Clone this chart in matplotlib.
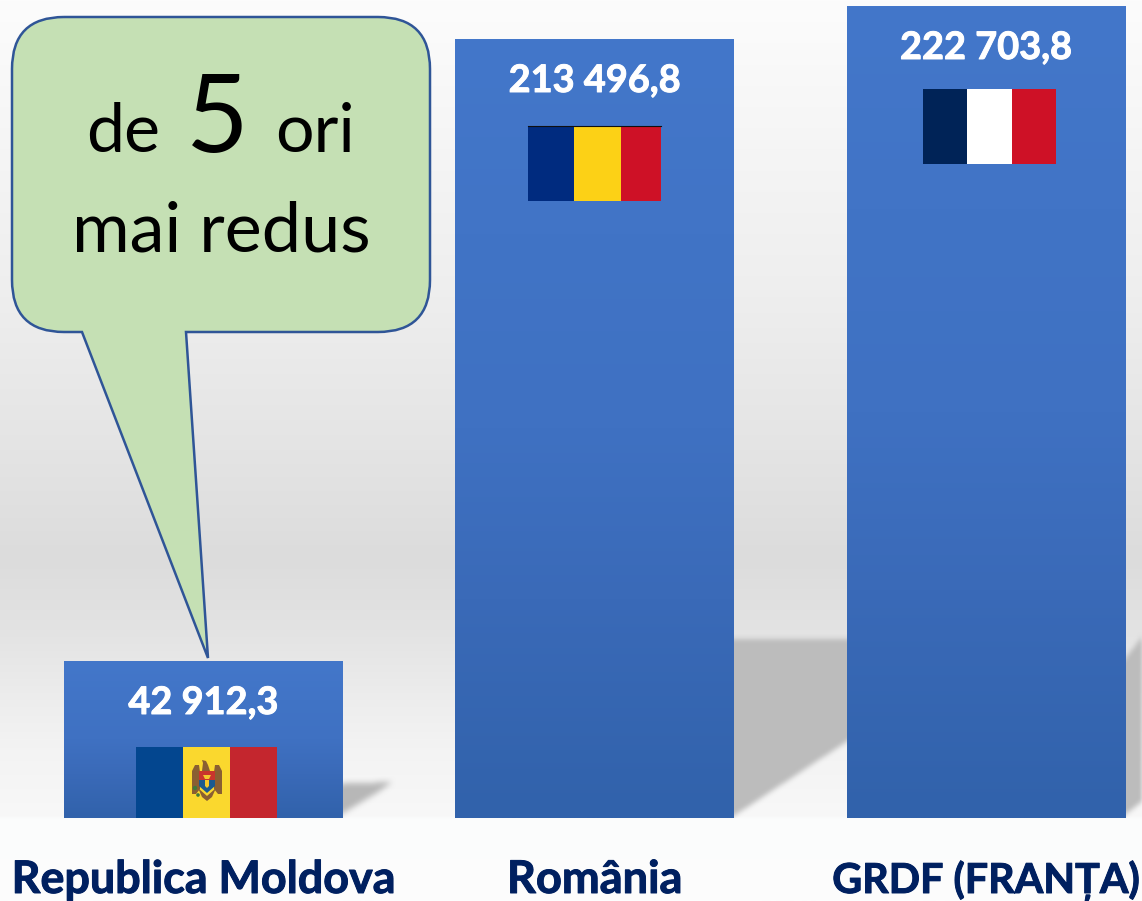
import numpy as np
import matplotlib
matplotlib.use("Agg")
import matplotlib.pyplot as plt
import matplotlib.patheffects as pe
from matplotlib.colors import to_rgb
from matplotlib.patches import Circle, PathPatch, Polygon, Rectangle
from matplotlib.path import Path
from matplotlib.transforms import Affine2D

# chart data
categories = ["Republica Moldova", "România", "GRDF (FRANȚA)"]
values = [42912.3, 213496.8, 222703.8]
value_labels = ["42 912,3", "213 496,8", "222 703,8"]
flag_colors = [["#03468f", "#fad82e", "#c4262e"],
               ["#002b7f", "#fcd116", "#ce1126"],
               ["#002357", "#ffffff", "#ce1126"]]

W, H = 1142, 901
fonts = ["Lato", "Open Sans", "DejaVu Sans"]
UNITS_PER_PX = 274.4
XSTEP = 391.25

fig = plt.figure(figsize=(W / 100, H / 100), dpi=100)
ax = fig.add_axes([0, 0, 1, 1])
ax.axis("off")

# decoration is placed in pixels, y going down
px = Affine2D().scale(1, -1).translate(0, H)


def set_limits():
    # imshow resets the limits, so this gets called again after each one
    ax.set_xlim(-203.5 / XSTEP, (W - 203.5) / XSTEP)
    ax.set_ylim(-83 * UNITS_PER_PX, 818 * UNITS_PER_PX)


def gradient(stops):
    ys = np.linspace(0, 1, 512)
    pos = [s[0] for s in stops]
    cols = [to_rgb(s[1]) for s in stops]
    rows = [np.interp(ys, pos, [c[i] for c in cols]) for i in range(3)]
    return np.array(rows).T[:, None, :]


# background, with the step under the bars
bg = gradient([(0, "#fcfcfc"), (0.33, "#eeeeee"), (0.5, "#e4e4e4"), (0.62, "#dcdcdc"), (0.70, "#e3e3e3"),
               (0.777, "#ededed"), (0.83, "#f3f3f3"), (0.907, "#f8f8f8"), (0.909, "#fbfcfc"), (1, "#fdfdfd")])
ax.imshow(bg, extent=(-203.5 / XSTEP, (W - 203.5) / XSTEP, -83 * UNITS_PER_PX, 818 * UNITS_PER_PX),
          aspect="auto", zorder=0)


def shadow(pts, grey, blur):
    # blurred polygon on a pixel grid, cut off at the floor line
    xx, yy = np.meshgrid(np.arange(W) + 0.5, np.arange(H) + 0.5)
    mask = Path(pts).contains_points(np.c_[xx.ravel(), yy.ravel()]).reshape(H, W).astype(float)
    kernel = np.ones(blur) / blur
    for _ in range(2):
        mask = np.apply_along_axis(lambda r: np.convolve(r, kernel, mode="same"), 0, mask)
        mask = np.apply_along_axis(lambda r: np.convolve(r, kernel, mode="same"), 1, mask)
    mask[818:, :] = 0
    rgba = np.zeros((H, W, 4))
    rgba[..., :3] = grey
    rgba[..., 3] = mask
    ax.imshow(rgba, extent=(-203.5 / XSTEP, (W - 203.5) / XSTEP, -83 * UNITS_PER_PX, 818 * UNITS_PER_PX),
              aspect="auto", zorder=1)


shadow([(330, 784), (392, 782), (378, 792), (335, 818)], 0.72, 7)
shadow([(725, 638), (880, 638), (880, 718), (725, 820)], 0.74, 6)
shadow([(1100, 688), (1160, 612), (1160, 786), (1100, 832)], 0.74, 6)

# bars
x = np.arange(len(categories))
width = 279 / XSTEP
bar_grad = gradient([(0, "#4377ca"), (0.5, "#3f71c2"), (0.72, "#3a6ab8"), (1, "#3162ab")])
bars = ax.bar(x, values, width=width, color="#3f72c4", zorder=2)
for b in bars:
    ax.imshow(bar_grad, extent=(b.get_x(), b.get_x() + b.get_width(), 0, b.get_height()),
              aspect="auto", zorder=3)
set_limits()

# value labels and category names
label_rows = [714, 92, 59]
name_sizes = [32.3, 32.5, 29.7]
heavy = [pe.withStroke(linewidth=0.7, foreground="white")]
heavy_name = [pe.withStroke(linewidth=0.7, foreground="#002060")]
for i in range(len(values)):
    cx = 203.5 + XSTEP * i
    ax.text(cx, label_rows[i], value_labels[i], transform=px, color="white", fontweight="bold", fontsize=27.3,
            ha="center", va="baseline", family=fonts, zorder=5, path_effects=heavy)
    ax.text(cx, 893, categories[i], transform=px, color="#002060", fontweight="bold", fontsize=name_sizes[i],
            ha="center", va="baseline", family=fonts, zorder=5, path_effects=heavy_name)

# flags
flag_boxes = [(136, 183, 230, 277, 747, 818), (528, 574, 621, 661, 126, 201), (923, 967, 1012, 1056, 89, 164)]
for box, cols in zip(flag_boxes, flag_colors):
    xs = box[:4]
    for j in range(3):
        ax.add_patch(Rectangle((xs[j], box[4]), xs[j + 1] - xs[j], box[5] - box[4], transform=px,
                               facecolor=cols[j], edgecolor="none", zorder=4))
ax.plot([528, 661], [126, 126], transform=px, color="#101010", lw=0.8, zorder=5)


# Moldova coat of arms, simplified
def arms(pts, col, z=5):
    ax.add_patch(Polygon(pts, closed=True, transform=px, facecolor=col, edgecolor="none", zorder=z))


arms([(192, 771), (195, 765), (199, 765), (200, 772), (200, 789), (196, 794), (192, 794)], "#8a5f32")
arms([(222, 771), (219, 765), (215, 765), (214, 772), (214, 789), (218, 794), (222, 794)], "#8a5f32")
arms([(202, 771), (203, 763), (202, 760), (206, 761), (208, 765), (210, 771)], "#8a5f32")
arms([(198, 788), (207, 796), (216, 788), (212, 797), (207, 801), (202, 797)], "#8a5f32")
arms([(199, 771), (215, 771), (215, 780), (199, 780)], "#c8352c", 6)
arms([(199, 780), (215, 780), (215, 786), (207, 793), (199, 786)], "#1b5a8f", 6)
arms([(203, 775), (211, 775), (209, 779), (205, 779)], "#f3c92c", 7)
arms([(205, 780), (209, 780), (209, 786), (207, 788), (205, 786)], "#f3c92c", 7)
ax.add_patch(Circle((195, 788), 2.2, transform=px, facecolor="#3f7a3a", edgecolor="none", zorder=6))
ax.add_patch(Circle((198, 795), 1.8, transform=px, facecolor="#3f7a3a", edgecolor="none", zorder=6))

# callout
L, R, T, B, r = 12, 430, 17, 332, 52
verts = [(L + r, T), (R - r, T), (R, T), (R, T + r), (R, B - r), (R, B), (R - r, B),
         (186, B), (208, 658), (82, B), (L + r, B), (L, B), (L, B - r), (L, T + r), (L, T), (L + r, T)]
codes = [Path.MOVETO, Path.LINETO, Path.CURVE3, Path.CURVE3, Path.LINETO, Path.CURVE3, Path.CURVE3,
         Path.LINETO, Path.LINETO, Path.LINETO, Path.LINETO, Path.CURVE3, Path.CURVE3, Path.LINETO,
         Path.CURVE3, Path.CURVE3]
ax.add_patch(PathPatch(Path(verts, codes), transform=px, facecolor="#c5e0b4", edgecolor="#2f5597", lw=1.8, zorder=6))

ax.text(123, 152, "de", transform=px, fontsize=49, ha="center", va="baseline", color="black", family=fonts, zorder=7)
ax.text(217, 152, "5", transform=px, fontsize=78, ha="center", va="baseline", color="black", family=fonts, zorder=7)
ax.text(315, 152, "ori", transform=px, fontsize=49, ha="center", va="baseline", color="black", family=fonts, zorder=7)
ax.text(221, 252, "mai redus", transform=px, fontsize=50.5, ha="center", va="baseline", color="black", family=fonts, zorder=7)

fig.savefig("out.png", dpi=100)
